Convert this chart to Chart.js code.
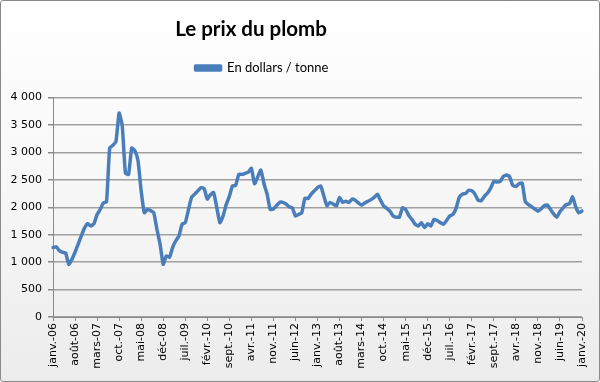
<!DOCTYPE html>
<html>
<head>
<meta charset="utf-8">
<script src="https://cdn.jsdelivr.net/npm/chart.js@4.4.1/dist/chart.umd.min.js"></script>
<style>
  html, body { margin: 0; padding: 0; }
  #wrap {
    position: relative;
    width: 598px;
    height: 380px;
    border: 1px solid #8a8a8a;
    border-radius: 3px;
    background: linear-gradient(#ffffff 0%, #f7f7f7 50%, #ececec 100%);
  }
  canvas { position: absolute; left: -1px; top: -1px; }
</style>
</head>
<body>
<div id="wrap"><canvas id="chart" width="600" height="382"></canvas></div>
<script>
// monthly lead price, janv. 2006 -> janv. 2020 (USD per tonne)
const monthNames = ['janv.', 'févr.', 'mars', 'avr.', 'mai', 'juin', 'juil.', 'août', 'sept.', 'oct.', 'nov.', 'déc'];
const startYear = 2006;
const tickEvery = 7; // one label every 7 months

const prices = [
  1266, 1280, 1210, 1180, 1170, 960, 1050, 1180, 1330, 1480, 1620, 1700, // 2006
  1660, 1700, 1870, 1960, 2080, 2100, 3080, 3130, 3200, 3720, 3480, 2620, // 2007
  2600, 3080, 3030, 2850, 2300, 1900, 1960, 1940, 1900, 1600, 1330, 960,  // 2008
  1115, 1090, 1270, 1390, 1480, 1690, 1720, 1950, 2180, 2240, 2300, 2360, // 2009
  2340, 2150, 2230, 2270, 2000, 1720, 1840, 2050, 2200, 2390, 2400, 2600, // 2010
  2600, 2620, 2640, 2710, 2430, 2550, 2680, 2430, 2240, 1960, 1970, 2030, // 2011
  2090, 2090, 2060, 2010, 1990, 1840, 1870, 1900, 2165, 2160, 2240, 2300, // 2012
  2360, 2390, 2210, 2030, 2090, 2060, 2025, 2180, 2090, 2110, 2090, 2150, // 2013
  2130, 2080, 2040, 2080, 2110, 2140, 2180, 2240, 2130, 2025, 1980, 1930, // 2014
  1840, 1820, 1820, 1990, 1960, 1850, 1780, 1690, 1660, 1720, 1630, 1700, // 2015
  1660, 1780, 1760, 1720, 1690, 1760, 1840, 1870, 1980, 2180, 2240, 2250, // 2016
  2310, 2300, 2240, 2130, 2120, 2200, 2260, 2350, 2470, 2460, 2470, 2560, // 2017
  2590, 2560, 2400, 2380, 2430, 2440, 2100, 2050, 2010, 1970, 1930, 1970, // 2018
  2030, 2040, 1960, 1880, 1820, 1920, 1990, 2050, 2060, 2190, 2010, 1900, // 2019
  1930                                                                    // 2020
];

const months = prices.map((_, i) => {
  const yy = (startYear + Math.floor(i / 12)) % 100;
  return monthNames[i % 12] + '-' + String(yy).padStart(2, '0');
});

const yTicks = [0, 500, 1000, 1500, 2000, 2500, 3000, 3500, 4000];

function fmt(v) {
  return String(v).replace(/\B(?=(\d{3})+(?!\d))/g, ' ');
}

const gridGrey = '#a0a0a0';
const lineBlue = '#4a7ebb';

// excel puts title + legend a bit left of the middle, and leaves a gap under the legend
const headerTweaks = {
  id: 'headerTweaks',
  afterInit(chart) {
    const lg = chart.legend;
    const fit = lg.fit.bind(lg);
    lg.fit = function () {
      fit();
      this.height += 13;
    };
  },
  afterLayout(chart) {
    const t = chart.titleBlock, lg = chart.legend;
    if (t) { t.left -= 40; t.right -= 40; }
    if (lg) { lg.left -= 29; lg.right -= 29; }
  }
};

new Chart(document.getElementById('chart'), {
  type: 'line',
  data: {
    labels: months,
    datasets: [{
      label: 'En dollars / tonne',
      data: prices,
      borderColor: lineBlue,
      backgroundColor: lineBlue,
      borderWidth: 3.5,
      pointRadius: 0,
      tension: 0.15,
      borderCapStyle: 'round',
      borderJoinStyle: 'round'
    }]
  },
  plugins: [headerTweaks],
  options: {
    responsive: false,
    animation: false,
    layout: { padding: { left: 0, right: 18, top: 0, bottom: 0 } },
    plugins: {
      title: {
        display: true,
        text: 'Le prix du plomb',
        color: '#000',
        font: { family: 'Lato', size: 20.5, weight: 'bold' },
        padding: { top: 17, bottom: 10 }
      },
      legend: {
        display: true,
        position: 'top',
        labels: {
          color: '#000',
          font: { family: 'Lato', size: 13 },
          boxWidth: 25,
          boxHeight: 4,
          padding: 10
        }
      },
      tooltip: { enabled: false }
    },
    scales: {
      x: {
        type: 'category',
        offset: false,
        grid: {
          drawOnChartArea: false,
          drawTicks: true,
          tickLength: 4,
          color: '#8a8a8a'
        },
        border: { display: true, color: '#8a8a8a', width: 1 },
        ticks: {
          autoSkip: false,
          minRotation: 90,
          maxRotation: 90,
          padding: 2,
          color: '#000',
          font: { family: 'DejaVu Sans', size: 11 },
          callback: function (value, index) {
            return index % tickEvery === 0 ? months[index] : null;
          }
        },
        afterFit: function (scale) { scale.height = 65; }
      },
      y: {
        min: 0,
        max: 4000,
        afterBuildTicks: function (scale) {
          scale.ticks = yTicks.map(v => ({ value: v }));
        },
        grid: {
          color: gridGrey,
          lineWidth: 1.5,
          tickLength: 5,
          tickColor: '#8a8a8a'
        },
        border: { display: true, color: '#8a8a8a', width: 1 },
        ticks: {
          padding: 6,
          color: '#000',
          font: { family: 'DejaVu Sans', size: 11 },
          callback: function (value) { return fmt(value); }
        },
        afterFit: function (scale) { scale.width = 53; }
      }
    }
  }
});
</script>
</body>
</html>
